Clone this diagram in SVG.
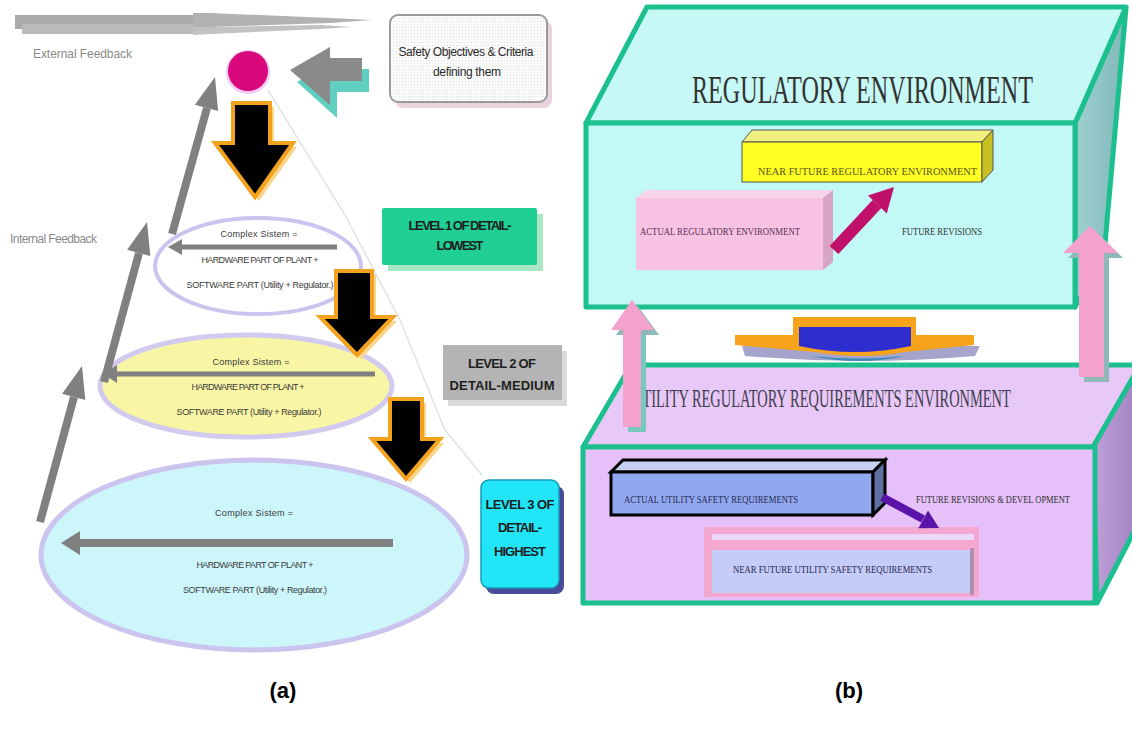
<svg xmlns="http://www.w3.org/2000/svg" width="1132" height="731" viewBox="0 0 1132 731">
<defs>
<style>
.ell{font-family:"Liberation Sans",Arial,sans-serif;font-size:9px;fill:#3a3a3a;text-anchor:middle}
.lvl{font-family:"Liberation Sans",Arial,sans-serif;font-size:13px;font-weight:bold;fill:#1e1e1e;text-anchor:middle}
.fb{font-family:"Liberation Sans",Arial,sans-serif;font-size:12px;fill:#8a8a8a}
.sm{font-family:"Liberation Serif","Times New Roman",serif;font-size:10px;fill:#2a2a50}
.big{font-family:"Liberation Serif","Times New Roman",serif}
.cap{font-family:"Liberation Sans",Arial,sans-serif;font-size:22px;font-weight:bold;fill:#000;text-anchor:middle}
.blk{fill:#000;stroke:#f2a21c;stroke-width:4;stroke-linejoin:miter}
.blksh{fill:#f9d48a}
.gr{fill:#808080}
.grl{stroke:#808080;fill:none}
.edge{stroke:#1cc08e;stroke-width:5;stroke-linejoin:round}
</style>
<linearGradient id="rf1" x1="0" y1="0" x2="1" y2="0"><stop offset="0" stop-color="#9fd0d0"/><stop offset="1" stop-color="#7fb8b8"/></linearGradient>
<linearGradient id="rf2" x1="0" y1="0" x2="1" y2="0"><stop offset="0" stop-color="#c0a0d8"/><stop offset="1" stop-color="#a080c0"/></linearGradient>
<pattern id="dots" width="3" height="3" patternUnits="userSpaceOnUse"><rect width="3" height="3" fill="#fbfbfb"/><rect width="1" height="1" fill="#dedede"/></pattern>
</defs>
<rect width="1132" height="731" fill="#ffffff"/>

<!-- ===== Panel (a) ===== -->
<g id="external-feedback-bar">
<rect x="15" y="15" width="180" height="14" fill="#aaaaaa"/>
<rect x="22" y="24" width="173" height="10" fill="#bbbbbb"/>
<polygon points="193,13 210,13 330,18 372,20 330,23 210,27 193,27" fill="#b2b2b2"/>
<polygon points="193,27 210,27 320,25 352,27 320,29 210,34 193,35" fill="#c2c2c2"/>
<text class="fb" x="33" y="58" textLength="99">External Feedback</text>
</g>
<g id="internal-feedback-label"><text class="fb" x="10" y="243" textLength="87">Internal Feedback</text></g>

<g id="cone-lines">
<polyline points="268,90 345,215 400,320 445,430 482,475" fill="none" stroke="#e2e2e2" stroke-width="1.5"/>
</g>

<g id="ellipse-level3">
<ellipse cx="254" cy="555" rx="213" ry="95" fill="#cdf6fa" stroke="#cbc4ef" stroke-width="5"/>
<text class="ell" x="254" y="516" textLength="78">Complex Sistem =</text>
<text class="ell" x="255" y="568" textLength="117">HARDWARE PART OF PLANT +</text>
<text class="ell" x="255" y="593" textLength="144">SOFTWARE PART (Utility + Regulator.)</text>
</g>
<g id="ellipse-level2">
<ellipse cx="246" cy="386" rx="146" ry="51" fill="#f8f6a4" stroke="#d2cbef" stroke-width="5"/>
<text class="ell" x="251" y="365" textLength="77">Complex Sistem =</text>
<text class="ell" x="248" y="390" textLength="113">HARDWARE PART OF PLANT +</text>
<text class="ell" x="249" y="415" textLength="145">SOFTWARE PART (Utility + Regulator.)</text>
</g>
<g id="ellipse-level1">
<ellipse cx="258" cy="266" rx="103" ry="48" fill="#ffffff" stroke="#cbc4ef" stroke-width="4"/>
<text class="ell" x="259" y="237" textLength="77">Complex Sistem =</text>
<text class="ell" x="260" y="263" textLength="117">HARDWARE PART OF PLANT +</text>
<text class="ell" x="260" y="288" textLength="147">SOFTWARE PART (Utility + Regulator.)</text>
</g>

<g id="circle-objective"><circle cx="248" cy="72" r="22" fill="#f4c8f0"/><circle cx="248" cy="71" r="20" fill="#d8087c"/></g>

<g id="safety-box">
<rect x="395" y="21" width="157" height="87" rx="8" fill="#e9d3df"/>
<rect x="390" y="15" width="157" height="87" rx="8" fill="url(#dots)" stroke="#9a9a9a" stroke-width="2"/>
<text class="lvl" style="font-size:12px;font-weight:normal;fill:#2a2a2a" x="466" y="56" textLength="135">Safety Objectives &amp; Criteria</text>
<text class="lvl" style="font-size:12px;font-weight:normal;fill:#2a2a2a" x="467" y="76" textLength="68">defining them</text>
</g>

<g id="level1-box">
<rect x="388" y="214" width="155" height="57" fill="#a8e6c6"/>
<rect x="382" y="208" width="155" height="57" rx="2" fill="#1fcf94"/>
<text class="lvl" x="460" y="230" textLength="103">LEVEL 1 OF DETAIL-</text>
<text class="lvl" x="460" y="250" textLength="47">LOWEST</text>
</g>
<g id="level2-box">
<rect x="448" y="351" width="119" height="55" fill="#dadada"/>
<rect x="443" y="345" width="119" height="55" fill="#b4b4b4"/>
<text class="lvl" x="502" y="368" textLength="68">LEVEL 2 OF</text>
<text class="lvl" x="502" y="390" textLength="105">DETAIL-MEDIUM</text>
</g>
<g id="level3-box">
<rect x="486" y="486" width="78" height="108" rx="8" fill="#4a4a9a"/>
<rect x="481" y="480" width="78" height="108" rx="8" fill="#22e6f8" stroke="#149ab8" stroke-width="1.5"/>
<text class="lvl" x="520" y="509" textLength="69">LEVEL 3 OF</text>
<text class="lvl" x="520" y="532" textLength="44">DETAIL-</text>
<text class="lvl" x="520" y="556" textLength="52">HIGHEST</text>
</g>

<g id="connectors-a">
<path class="blksh" d="M237,107 H274 V147 H297 L259,201 L219,147 H237 Z"/>
<path class="blk" d="M233,103 H270 V143 H293 L255,197 L215,143 H233 Z"/>
<path class="blksh" d="M340,275 H376 V321 H397 L361,359 L324,321 H340 Z"/>
<path class="blk" d="M336,271 H372 V317 H393 L357,355 L320,317 H336 Z"/>
<path class="blksh" d="M394,403 H426 V443 H444 L410,483 L376,443 H394 Z"/>
<path class="blk" d="M390,399 H422 V439 H440 L406,479 L372,439 H390 Z"/>
<polygon points="297,82 337,59 337,69 369,69 369,92 337,92 337,118" fill="#5fd0c0"/>
<polygon points="290,70 330,47 330,58 362,58 362,81 330,81 330,105" fill="#8a8a8a"/>
<line class="grl" x1="40" y1="522" x2="74" y2="397" stroke-width="8"/>
<polygon class="gr" points="82,366 85.3,400 62.1,393.8"/>
<line class="grl" x1="104" y1="382" x2="139" y2="253" stroke-width="8"/>
<polygon class="gr" points="147,222 150.3,256 127.1,249.8"/>
<line class="grl" x1="172" y1="234" x2="207" y2="108" stroke-width="8"/>
<polygon class="gr" points="215,77 218.1,111.1 194.9,104.7"/>
<line class="grl" x1="337" y1="247" x2="180" y2="247" stroke-width="5"/>
<polygon class="gr" points="168,247 182,239 182,255"/>
<line class="grl" x1="375" y1="374" x2="114" y2="374" stroke-width="5"/>
<polygon class="gr" points="103,374 117,365 117,383"/>
<line class="grl" x1="393" y1="543" x2="78" y2="543" stroke-width="8"/>
<polygon class="gr" points="61,543 80,531 80,555"/>
</g>

<!-- ===== Panel (b) ===== -->
<g id="regulatory-environment">
<polygon points="1075,123 1126,8 1104,255 1075,307" fill="url(#rf1)" class="edge"/>
<polygon points="647,7 1126,7 1075,123 586,123" fill="#c6f8f6" class="edge"/>
<rect x="586" y="123" width="489" height="184" fill="#c2f8f6" class="edge"/>
<text class="big" transform="translate(692,103) scale(0.603,1)" x="0" y="0" font-size="40" fill="#333">REGULATORY ENVIRONMENT</text>
</g>
<g id="near-future-regulatory">
<polygon points="742,142 752,130 993,130 982,142" fill="#f0f080" stroke="#555" stroke-width="1"/>
<rect x="742" y="142" width="240" height="40" fill="#ffff22" stroke="#555" stroke-width="1"/>
<polygon points="982,142 993,130 993,170 982,182" fill="#c8c020" stroke="#555" stroke-width="1"/>
<text class="sm" style="fill:#5a5520" x="758" y="175" font-size="12" textLength="219" lengthAdjust="spacingAndGlyphs">NEAR FUTURE REGULATORY ENVIRONMENT</text>
</g>
<g id="actual-regulatory">
<polygon points="636,198 646,190 833,190 823,198" fill="#f8d4ea"/>
<rect x="636" y="198" width="187" height="72" fill="#f8c2e2"/>
<polygon points="823,198 833,190 833,262 823,270" fill="#d8a4c4"/>
<text class="sm" style="fill:#553355" x="640" y="235" textLength="160" lengthAdjust="spacingAndGlyphs">ACTUAL REGULATORY ENVIRONMENT</text>
</g>
<g id="future-revisions-label"><text class="sm" style="fill:#333" x="902" y="235" textLength="80" lengthAdjust="spacingAndGlyphs">FUTURE REVISIONS</text></g>

<g id="utility-environment">
<polygon points="1093,447 1140,365 1140,520 1097,603" fill="url(#rf2)" class="edge"/>
<polygon points="631,365 1140,365 1093,447 583,447" fill="#e8c8f6" class="edge"/>
<rect x="583" y="447" width="512" height="156" fill="#e6c0f8" class="edge"/>
<text class="big" transform="translate(632,407) scale(0.555,1)" x="0" y="0" font-size="26" fill="#404050">UTILITY REGULATORY REQUIREMENTS ENVIRONMENT</text>
</g>
<g id="actual-utility">
<polygon points="611,472 623,460 885,460 873,472" fill="#c8d0f4" stroke="#000" stroke-width="3"/>
<rect x="611" y="472" width="262" height="43" fill="#90a8f0" stroke="#000" stroke-width="3"/>
<polygon points="873,472 885,460 885,503 873,515" fill="#6070a0" stroke="#000" stroke-width="3"/>
<text class="sm" x="624" y="503" textLength="174" lengthAdjust="spacingAndGlyphs">ACTUAL UTILITY SAFETY REQUIREMENTS</text>
</g>
<g id="future-dev-label"><text class="sm" style="fill:#333" x="916" y="503" textLength="154" lengthAdjust="spacingAndGlyphs">FUTURE REVISIONS &amp; DEVEL OPMENT</text></g>
<g id="near-future-utility">
<rect x="704" y="527" width="275" height="70" fill="#f4a8d0"/>
<rect x="712" y="534" width="262" height="6" fill="#ead8f8"/>
<rect x="712" y="550" width="258" height="43" fill="#c4ccf8"/>
<rect x="970" y="548" width="4" height="47" fill="#b090b0"/>
<text class="sm" x="733" y="573" textLength="199" lengthAdjust="spacingAndGlyphs">NEAR FUTURE UTILITY SAFETY REQUIREMENTS</text>
</g>
<g id="bridge-shape">
<path d="M742,346 H980 L975,356 Q860,366 745,356 Z" fill="#a4a4cc"/>
<path d="M793,317 H916 V335 H974 V345 L905,352 Q860,360 815,352 L735,345 V335 H793 Z" fill="#f7a21b"/>
<path d="M799,327 H911 V346 Q855,358 799,346 Z" fill="#2e2ed0"/>
<path d="M810,356 Q860,366 905,356 Q860,361 810,356 Z" fill="#3a8ac0"/>
</g>

<g id="connectors-b">
<line x1="834" y1="250" x2="877" y2="204" stroke="#c0106a" stroke-width="12"/>
<polygon points="894,187 886.8,213.4 868,195.4" fill="#c0106a"/>
<line x1="882" y1="497" x2="923" y2="519" stroke="#5a14a8" stroke-width="8"/>
<polygon points="939,528 918.4,528.2 928,510.6" fill="#5a14a8"/>
<polygon points="1084,258 1109,258 1109,382 1084,382" fill="#8fb8b8"/>
<polygon points="1068,258 1095,231 1123,258" fill="#8fb8b8"/>
<rect x="1079" y="253" width="25" height="124" fill="#f4a2cc"/>
<polygon points="1063,253 1090,226 1118,253" fill="#f4a2cc"/>
<rect x="628" y="335" width="18" height="97" fill="#78c8c0"/>
<polygon points="616,335 637,305 659,335" fill="#8fb8b8"/>
<rect x="623" y="330" width="18" height="97" fill="#f4a2cc"/>
<polygon points="611,330 632,300 654,330" fill="#f4a2cc"/>
</g>

<g id="captions">
<text class="cap" x="283" y="698">(a)</text>
<text class="cap" x="849" y="698">(b)</text>
</g>
</svg>
